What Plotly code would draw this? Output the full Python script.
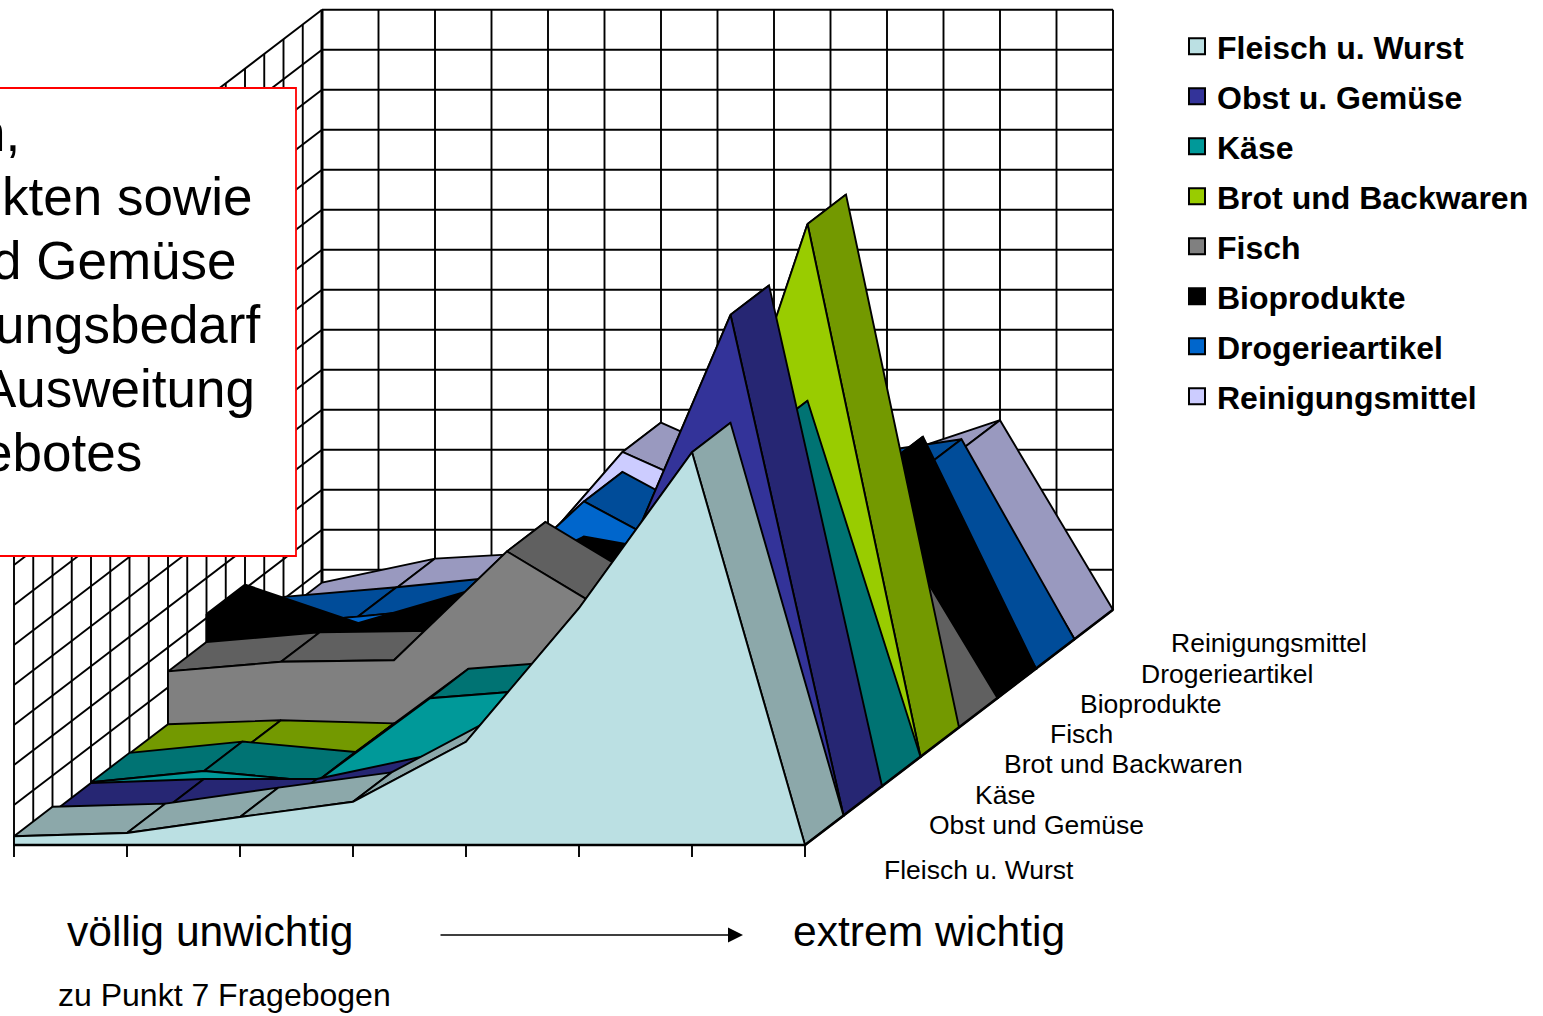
import plotly.graph_objects as go

# --- data (percent of answers per importance level) ---
legend_names = ["Fleisch u. Wurst", "Obst u. Gemüse", "Käse", "Brot und Backwaren",
                "Fisch", "Bioprodukte", "Drogerieartikel", "Reinigungsmittel"]
depth_labels = ["Fleisch u. Wurst", "Obst und Gemüse", "Käse", "Brot und Backwaren",
                "Fisch", "Bioprodukte", "Drogerieartikel", "Reinigungsmittel"]
fleisch = [1.1, 1.5, 3.5, 5.4, 12.9, 29.6, 49.1, 0]
obst = [0.4, 0.9, 0.9, 3.9, 3.0, 29.6, 62.6, 0]
kaese = [0.5, 1.9, 0.6, 11.0, 12.1, 27.0, 44.5, 0]
brot = [0.4, 0.9, 0.5, 2.0, 5.0, 24.5, 66.6, 0]
fisch = [7.0, 8.2, 8.4, 22.0, 13.5, 17.0, 23.4, 0]
bio = [10.5, 5.7, 9.8, 16.5, 14.0, 14.5, 29.0, 0]
drogerie = [5.3, 6.5, 7.9, 20.9, 13.3, 22.9, 25.0, 0]
reinigung = [3.4, 6.4, 7.2, 23.4, 17.1, 19.0, 23.7, 0]
series = [fleisch, obst, kaese, brot, fisch, bio, drogerie, reinigung]
front_colors = ["#BBE0E3", "#333399", "#009999", "#99CC00", "#808080", "#000000", "#0066CC", "#CCCCFF"]
top_colors = ["#8CA8AA", "#262673", "#007373", "#739900", "#606060", "#000000", "#004C99", "#9999BF"]

VALUE_MAX = 75
VALUE_STEP = 5

# --- oblique 3D projection onto the page ---
X0, Y0 = 14.0, 845.0
CAT = 113.0
DX, DY = 38.5, 29.4
VAL = 8.0


def project(cat, depth, value):
    return X0 + CAT * cat + DX * depth, Y0 - DY * depth - VAL * value


def path(points):
    xs, ys = [], []
    for c, d, v in points:
        x, y = project(c, d, v)
        xs.append(x)
        ys.append(y)
    return xs, ys


fig = go.Figure()


def add_lines(segments, width, name):
    xs, ys = [], []
    for seg in segments:
        sx, sy = path(seg)
        xs += sx + [None]
        ys += sy + [None]
    fig.add_trace(go.Scatter(x=xs, y=ys, mode="lines", line=dict(color="black", width=width),
                             showlegend=False, hoverinfo="skip", name=name))


# legend entries come first so they keep the reference order
for i, nm in enumerate(legend_names):
    fig.add_trace(go.Scatter(x=[None], y=[None], mode="markers", name=nm, legendgroup=nm,
                             marker=dict(symbol="square", size=16, color=front_colors[i],
                                         line=dict(color="black", width=2))))

# walls
n_cat = 8
n_ser = 8
levels = [VALUE_STEP * i for i in range(VALUE_MAX // VALUE_STEP + 1)]
back = [[(0, n_ser, v), (n_cat - 1, n_ser, v)] for v in levels]
back += [[(c / 2, n_ser, 0), (c / 2, n_ser, VALUE_MAX)] for c in range(1, 2 * (n_cat - 1) + 1)]
left = [[(0, 0, v), (0, n_ser, v)] for v in levels]
left += [[(0, d / 2, 0), (0, d / 2, VALUE_MAX)] for d in range(0, 2 * n_ser)]
add_lines(back + left, 1.9, "walls")
add_lines([[(0, n_ser, 0), (0, n_ser, VALUE_MAX)]], 3, "corner")

# series, back to front: one polygon per top facet, then the front face
for k in reversed(range(n_ser)):
    vals = series[k]
    for c in range(n_cat - 1):
        qx, qy = path([(c, k, vals[c]), (c, k + 1, vals[c]), (c + 1, k + 1, vals[c + 1]),
                       (c + 1, k, vals[c + 1]), (c, k, vals[c])])
        fig.add_trace(go.Scatter(x=qx, y=qy, mode="lines", fill="toself", fillcolor=top_colors[k],
                                 line=dict(color="black", width=1.9), showlegend=False,
                                 hoverinfo="skip", name=legend_names[k] + " top"))
    pts = [(c, k, vals[c]) for c in range(n_cat)] + [(n_cat - 1, k, 0), (0, k, 0), (0, k, vals[0])]
    fx, fy = path(pts)
    fig.add_trace(go.Scatter(x=fx, y=fy, mode="lines", fill="toself", fillcolor=front_colors[k],
                             line=dict(color="black", width=1.9), showlegend=False,
                             hoverinfo="skip", name=legend_names[k]))

# axis lines and ticks
add_lines([[(0, 0, 0), (n_cat - 1, 0, 0)], [(n_cat - 1, 0, 0), (n_cat - 1, n_ser, 0)]], 2.6, "axes")
add_lines([[(c, 0, 0), (c, 0, -1.5)] for c in range(n_cat)], 1.9, "ticks")

ann = []


def label(x, y, text, size, anchor="left", color="black", bold=False):
    ann.append(dict(x=x, y=y, text=f"<b>{text}</b>" if bold else text, showarrow=False, xanchor=anchor,
                    yanchor="middle", font=dict(family="Liberation Sans, Arial", size=size, color=color)))


depth_pos = [(882, 870), (927, 825), (973, 795), (1002, 764), (1048, 734), (1078, 704), (1139, 674), (1169, 643)]
for txt, (x, y) in zip(depth_labels, depth_pos):
    label(x, y, txt, 26.5)

label(65, 931, "völlig unwichtig", 42.6)
label(791, 931, "extrem wichtig", 42.6)
label(56, 995, "zu Punkt 7 Fragebogen", 32)

box_lines = [("n,", 22, 132), ("kten sowie", 254, 196), ("d Gemüse", 239, 260),
             ("ungsbedarf", 262, 324), ("Ausweitung", 257, 388), ("ebotes", 144, 452)]
for txt, x, y in box_lines:
    label(x, y, txt, 53, anchor="right")

# arrow
ann.append(dict(x=743, y=935, ax=439, ay=935, xref="x", yref="y", axref="x", ayref="y", text="",
                showarrow=True, arrowhead=2, arrowsize=2.0, arrowwidth=1.5, arrowcolor="black"))

fig.update_layout(
    width=1543, height=1016, margin=dict(l=0, r=0, t=0, b=0),
    paper_bgcolor="white", plot_bgcolor="white",
    xaxis=dict(range=[0, 1543], visible=False, fixedrange=True),
    yaxis=dict(range=[1016, 0], visible=False, fixedrange=True),
    annotations=ann,
    shapes=[dict(type="rect", x0=-10, x1=296, y0=88, y1=556, fillcolor="white",
                 line=dict(color="#FF0000", width=1.8), layer="above")],
    legend=dict(x=1177 / 1543, y=1 - 19 / 1016, xanchor="left", yanchor="top", bgcolor="rgba(0,0,0,0)",
                tracegroupgap=5.4, itemclick=False, itemdoubleclick=False,
                font=dict(family="Liberation Sans, Arial", size=32, color="black", weight="bold")),
)
fig.write_html("out.html", config={"displayModeBar": False},
               post_script="document.body.style.margin='0';document.body.style.overflow='hidden';")
